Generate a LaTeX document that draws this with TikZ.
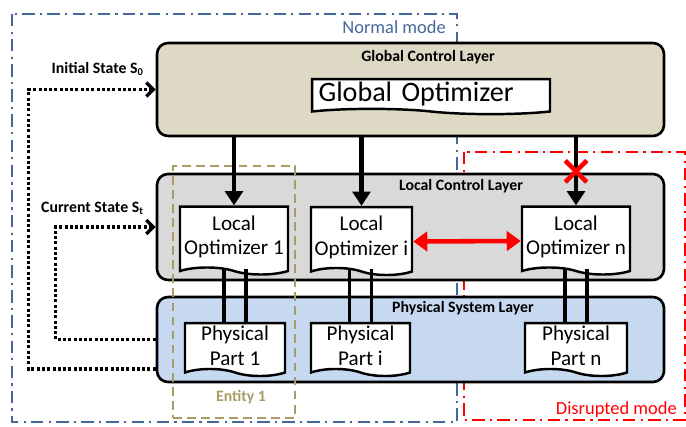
\documentclass[tikz,border=0pt]{standalone}
\usepackage{fontspec}
\setmainfont{Carlito}
\usetikzlibrary{arrows.meta,shapes.symbols,shapes.misc,fit,calc,positioning}
\definecolor{myblue}{RGB}{68,104,156}
\definecolor{myred}{RGB}{255,0,0}
\definecolor{mytan}{RGB}{168,157,104}
\definecolor{globalfill}{RGB}{221,217,196}
\definecolor{localfill}{RGB}{217,217,217}
\definecolor{physfill}{RGB}{198,217,240}

\tikzset{
    layer/.style={draw, line width=1.5pt, rounded corners=0.22cm, inner sep=0pt},
    layertitle/.style={font=\bfseries\fontsize{9}{10}\selectfont},
    doc/.style={tape, tape bend top=none, tape bend bottom=out and in,
        tape bend height=4pt, draw, fill=white, line width=1.4pt,
        align=center, inner sep=0pt, font=\fontsize{12}{14}\selectfont},
    ctrl/.style={line width=2.4pt, -{Triangle[width=10pt, length=8pt]}},
    peer/.style={myred, line width=2.6pt,
        {Triangle[width=11pt, length=8pt]}-{Triangle[width=11pt, length=8pt]}},
    link/.style={line width=2.2pt},
    feedback/.style={line width=1.9pt, dash pattern=on 1.7pt off 1.3pt,
        -{Straight Barb[length=4pt, width=8pt]}},
    modebox/.style={line width=1.3pt, dash pattern=on 7pt off 3pt on 1.3pt off 3pt},
    modelabel/.style={font=\fontsize{10.5}{12}\selectfont},
    entitybox/.style={draw=mytan, line width=1.5pt, dash pattern=on 5pt off 3pt, inner sep=0pt},
    statelabel/.style={font=\bfseries\fontsize{9}{10}\selectfont},
}

\begin{document}
\begin{tikzpicture}[x=0.02cm, y=-0.02cm]
    \useasboundingbox (0, 0) rectangle (686, 426);
    % Modes
    \draw[modebox, myblue] (12, 14) rectangle (457, 422);
    \draw[modebox, myred] (464, 152) rectangle (685, 420);
    \node[modelabel, text=myblue, anchor=east] (normallbl) at (452, 27) {Normal mode};
    \node[modelabel, text=myred, anchor=east] (disruptlbl) at (683, 410) {Disrupted mode};
    % Layers
    \node[layer, fill=globalfill, fit={(157, 43) (664, 136)}] (global) {};
    \node[layer, fill=localfill, fit={(157, 174) (664, 280)}] (local) {};
    \node[layer, fill=physfill, fit={(157, 297) (664, 382)}] (phys) {};
    \node[layertitle] (globaltitle) at (428, 57) {Global Control Layer};
    \node[layertitle] (localtitle) at (461, 186) {Local Control Layer};
    \node[layertitle] (phystitle) at (463, 308) {Physical System Layer};
    % Entity
    \node[entitybox, fit={(173, 166) (295, 418)}] (entity) {};
    \node[statelabel, text=mytan] (entitylbl) at (241, 397) {Entity 1};
    % Optimizers and parts
    \node[doc, minimum width=4.76cm, minimum height=0.7cm, text width=4.5cm,
        align=left, inner xsep=0.13cm, tape bend height=3pt,
        font=\fontsize{16}{18}\selectfont] (gopt) at (431, 94) {Global Optimizer};
    \node[doc, minimum width=2.16cm, minimum height=1.36cm] (lopt1) at (234, 237) {Local\\Optimizer 1};
    \node[doc, minimum width=2.02cm, minimum height=1.36cm] (lopti) at (361.5, 237.5) {Local\\Optimizer i};
    \node[doc, minimum width=2.16cm, minimum height=1.36cm] (loptn) at (576, 237) {Local\\Optimizer n};
    \node[doc, minimum width=2.0cm, minimum height=1.06cm] (part1) at (235, 346) {Physical\\Part 1};
    \node[doc, minimum width=1.98cm, minimum height=1.06cm] (parti) at (360.5, 346) {Physical\\Part i};
    \node[doc, minimum width=2.04cm, minimum height=1.06cm] (partn) at (576, 346) {Physical\\Part n};
    % Connections
    \foreach \n in {lopt1, lopti, loptn}
        \draw[ctrl] (\n.north |- global.south) -- (\n.north);
    \node[cross out, draw=myred, line width=2.6pt, minimum size=0.34cm, inner sep=0pt]
        (cut) at ($(loptn.north |- global.south)!0.5!(loptn.north)$) {};
    \draw[peer] ([yshift=-0.08cm]lopti.east) -- ([yshift=-0.08cm]loptn.west);
    \foreach \n/\p in {lopt1/part1, lopti/parti, loptn/partn}
        \foreach \s in {-0.22cm, 0.22cm}
            \draw[link] ([xshift=\s]\p.north) -- ([xshift=\s]\p.north |- \n.south);
    % Feedback
    \draw[feedback] ([yshift=-0.59cm]phys.west) -- ++(-127, 0) |- (global.west);
    \draw[feedback] (phys.west) -- ++(-100, 0) |- (local.west);
    \node[statelabel, anchor=east] (initlbl) at (150, 69) {Initial State S\textsubscript{0}};
    \node[statelabel, anchor=east] (currlbl) at (150, 208) {Current State S\textsubscript{t}};
\end{tikzpicture}
\end{document}
